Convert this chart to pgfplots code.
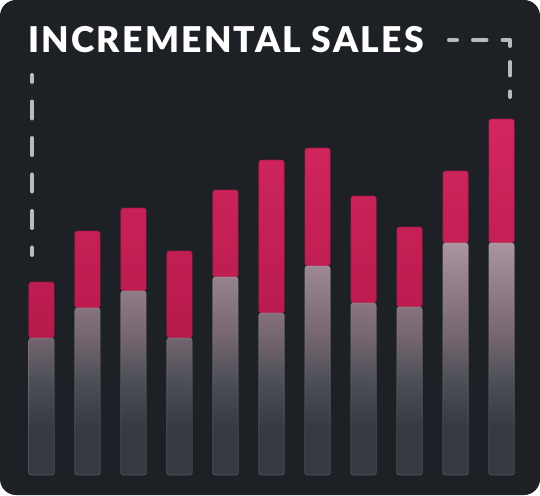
\documentclass[border=0pt]{standalone}
\usepackage{pgfplots}
\pgfplotsset{compat=1.18}
\usepackage{fontspec}
\newfontfamily\titlefont{Lato Black}[LetterSpace=6.4]
\definecolor{bg}{HTML}{1D2024}
\definecolor{crimT}{HTML}{D2275F}
\definecolor{crimB}{HTML}{B71A4C}
\definecolor{sh1}{HTML}{A9939F}
\definecolor{sh2}{HTML}{766670}
\definecolor{sh3}{HTML}{4B4E56}
\definecolor{sh4}{HTML}{363941}
\definecolor{dashc}{HTML}{B7BABF}
\pgfdeclareverticalshading{barshade}{100bp}{color(0bp)=(sh4); color(25bp)=(sh4); color(35bp)=(sh4); color(45bp)=(sh3); color(55bp)=(sh2); color(75bp)=(sh1); color(100bp)=(sh1)}
\begin{document}
\begin{tikzpicture}
\useasboundingbox (0,0) rectangle (540pt,495pt);
\fill[bg, rounded corners=16pt] (0,0) rectangle (540pt,495pt);
\node[anchor=base west, inner sep=0pt, text=white] at (28pt,442pt)
  {\titlefont\fontsize{35.5}{35.5}\selectfont INCREMENTAL SALES};
\draw[dashc, line width=4pt, line cap=round, dash pattern=on 17pt off 19.5pt, dash phase=10pt]
  (32pt,420pt) -- (32pt,240pt);
\draw[dashc, line width=4pt, line cap=round, line join=round, dash pattern=on 13.5pt off 16pt, dash phase=5.5pt]
  (449pt,455pt) -- (510pt,455pt) -- (510pt,398pt);
\begin{axis}[at={(0pt,0pt)}, anchor=south west, scale only axis,
  width=540pt, height=495pt,
  xmin=-0.902, xmax=10.837, ymin=-20, ymax=475,
  hide axis, clip=false,
  ybar stacked, bar width=25.5pt]
\addplot[shading=barshade, draw=white, draw opacity=0.18, line width=0.7pt, rounded corners=2.5pt]
  coordinates {(0,137) (1,167) (2,184) (3,137) (4,198) (5,162) (6,209) (7,172) (8,168) (9,232) (10,232)};
\addplot[top color=crimT, bottom color=crimB, draw=crimB!80!black, draw opacity=0.6, line width=0.7pt, rounded corners=2.5pt]
  coordinates {(0,56) (1,77) (2,83) (3,87) (4,87) (5,153) (6,118) (7,107) (8,80) (9,72) (10,124)};
\end{axis}
\end{tikzpicture}
\end{document}
